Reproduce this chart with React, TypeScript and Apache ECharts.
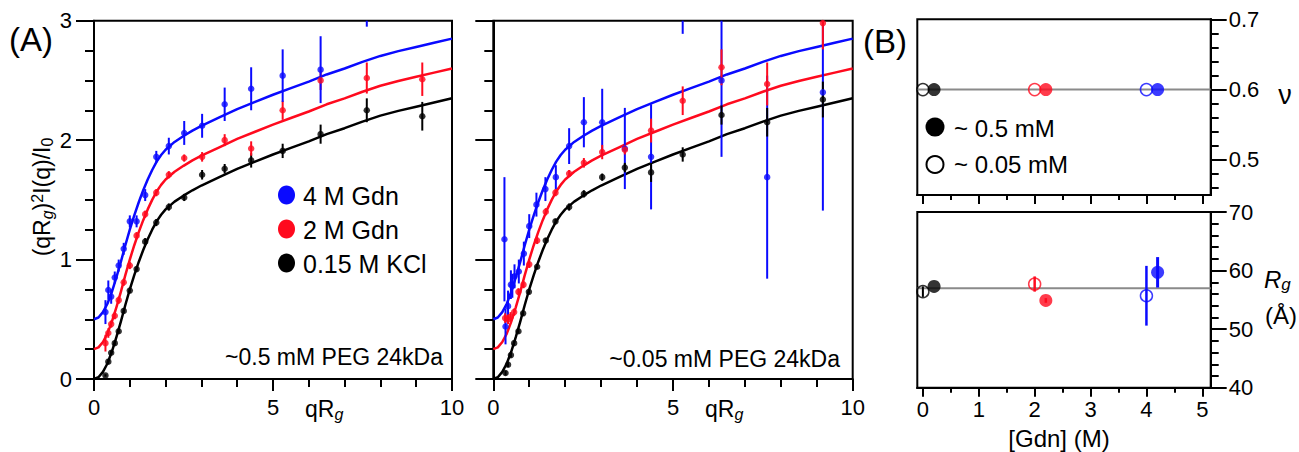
import React, { useEffect, useRef } from 'react';
import * as echarts from 'echarts';

const FONT = '"Liberation Sans", Arial, Helvetica, sans-serif';
const BLUE = '#0a0aff';
const RED = '#ff0a1e';
const BLACK = '#000000';
const GRAY = '#8a8a8a';

// ---------- Panel A : fitted curves ----------
const curveQ = [0, 0.125, 0.25, 0.375, 0.5, 0.625, 0.75, 0.875, 1, 1.125, 1.25, 1.375, 1.5, 1.625, 1.75, 1.875, 2, 2.25, 2.5, 2.75, 3, 3.5, 4, 4.5, 5, 5.5, 6, 6.5, 7, 7.5, 8, 8.5, 9, 9.5, 10];
const curveKCl = [0, 0.015, 0.06, 0.13, 0.23, 0.35, 0.48, 0.62, 0.75, 0.87, 0.98, 1.08, 1.17, 1.25, 1.32, 1.375, 1.42, 1.485, 1.535, 1.58, 1.62, 1.69, 1.76, 1.82, 1.88, 1.935, 1.99, 2.05, 2.10, 2.155, 2.205, 2.245, 2.28, 2.315, 2.35];
const curveGdn2 = [0.25, 0.265, 0.31, 0.38, 0.48, 0.60, 0.73, 0.87, 1.00, 1.12, 1.23, 1.33, 1.42, 1.50, 1.57, 1.625, 1.67, 1.735, 1.785, 1.83, 1.87, 1.94, 2.01, 2.07, 2.13, 2.185, 2.24, 2.30, 2.35, 2.405, 2.455, 2.495, 2.53, 2.565, 2.60];
const curveGdn4 = [0.50, 0.515, 0.56, 0.63, 0.73, 0.85, 0.98, 1.12, 1.25, 1.37, 1.48, 1.58, 1.67, 1.75, 1.82, 1.875, 1.92, 1.985, 2.035, 2.08, 2.12, 2.19, 2.26, 2.32, 2.38, 2.435, 2.49, 2.55, 2.60, 2.655, 2.705, 2.745, 2.78, 2.815, 2.85];

// ---------- Panel A left : ~0.5 mM PEG ----------
const hiQ = [0.32, 0.40, 0.48, 0.58, 0.69, 0.83, 1.0, 1.19, 1.43, 1.74, 2.09, 2.52, 3.02, 3.65, 4.39, 5.27, 6.33, 7.62, 9.17];
const hiKCl = [0.03, 0.145, 0.22, 0.30, 0.40, 0.57, 0.74, 0.92, 1.15, 1.31, 1.44, 1.52, 1.71, 1.76, 1.83, 1.91, 2.05, 2.25, 2.20];
const hiKClErr = [0.01, 0.02, 0.02, 0.02, 0.02, 0.02, 0.02, 0.02, 0.03, 0.03, 0.03, 0.03, 0.04, 0.04, 0.06, 0.06, 0.08, 0.10, 0.12];
const hiGdn2 = [0.30, 0.385, 0.46, 0.53, 0.66, 0.81, 0.95, 1.20, 1.38, 1.56, 1.71, 1.85, 1.86, 2.00, 1.93, 2.25, 2.50, 2.52, 2.51];
const hiGdn2Err = [0.07, 0.04, 0.03, 0.03, 0.03, 0.03, 0.03, 0.03, 0.03, 0.03, 0.03, 0.03, 0.04, 0.05, 0.06, 0.08, 0.08, 0.13, 0.14];
const hiGdn4 = [0.56, 0.745, 0.69, 0.85, 0.95, 1.09, 1.32, 1.32, 1.54, 1.86, 1.95, 2.06, 2.12, 2.30, 2.43, 2.54, 2.59, 3.30, null];
const hiGdn4Err = [0.10, 0.08, 0.06, 0.05, 0.05, 0.05, 0.05, 0.05, 0.05, 0.05, 0.07, 0.10, 0.10, 0.14, 0.18, 0.22, 0.28, 0.35, null];

// ---------- Panel A right : ~0.05 mM PEG ----------
const loQKCl = [0.34, 0.41, 0.49, 0.58, 0.70, 0.83, 0.99, 1.22, 1.46, 1.73, 2.11, 2.52, 3.03, 3.66, 4.39, 5.27, 6.35, 7.62, 9.17];
const loKCl = [0.05, 0.12, 0.20, 0.30, 0.40, 0.55, 0.73, 0.94, 1.16, 1.32, 1.44, 1.55, 1.69, 1.77, 1.73, 1.88, 2.21, 2.15, 2.34];
const loKClErr = [0.02, 0.02, 0.02, 0.02, 0.02, 0.02, 0.02, 0.02, 0.02, 0.02, 0.03, 0.03, 0.03, 0.04, 0.08, 0.06, 0.08, 0.12, 0.15];
const loQGdn2 = [0.33, 0.41, 0.48, 0.58, 0.70, 0.84, 1.0, 1.22, 1.46, 1.73, 2.11, 2.52, 3.03, 3.66, 4.39, 5.27, 6.35, 7.62, 9.17];
const loGdn2 = [0.51, 0.50, 0.52, 0.56, 0.73, 0.79, 0.96, 1.16, 1.40, 1.56, 1.72, 1.81, 1.90, 1.92, 2.08, 2.33, 2.61, 2.47, 2.98];
const loGdn2Err = [0.04, 0.04, 0.04, 0.03, 0.03, 0.03, 0.03, 0.03, 0.03, 0.03, 0.03, 0.04, 0.06, 0.04, 0.10, 0.12, 0.15, 0.18, 0.22];
const loQGdn4 = [0.31, 0.34, 0.41, 0.49, 0.53, 0.59, 0.71, 0.85, 1.0, 1.2, 1.45, 1.74, 2.11, 2.52, 3.03, 3.66, 4.39, 5.27, 6.35, 7.62, 9.17];
const loGdn4 = [1.17, 0.44, 0.61, 0.79, 0.78, 0.86, 0.90, 1.05, 1.28, 1.46, 1.59, 1.69, 1.95, 2.15, 2.15, 1.93, 1.86, 3.30, 2.50, 1.69, 2.40];
const loGdn4Err = [0.52, 0.15, 0.13, 0.12, 0.10, 0.10, 0.10, 0.10, 0.10, 0.10, 0.10, 0.10, 0.15, 0.21, 0.28, 0.34, 0.44, 0.41, 0.64, 0.85, 0.99];

// ---------- Panel B ----------
const gdnFilled = [0.2, 2.2, 4.2];
const gdnOpen = [0, 2, 4];
const pointColors = [BLACK, RED, BLUE];
const nuFilled = [0.6, 0.6, 0.6];
const nuOpen = [0.6, 0.6, 0.6];
const nuRef = 0.6;
const rgFilled = [57.3, 54.9, 59.7];
const rgFilledErr = [0, 0.4, 2.6];
const rgOpen = [56.4, 57.7, 55.7];
const rgOpenErr = [0.9, 1.3, 5.1];
const rgRef = 57;
const gdnMin = -0.1;
const gdnMax = 5.15;
const gdnTicks = [0, 1, 2, 3, 4, 5];
const gdnMinorTicks = [0.5, 1.5, 2.5, 3.5, 4.5];
const nuTicks = [0.5, 0.6, 0.7];
const nuMinorTicks = [0.46, 0.48, 0.52, 0.54, 0.56, 0.58, 0.62, 0.64, 0.66, 0.68];

const tickLine = { color: '#000', width: 2 };
const labelStyle = { color: '#000', fontSize: 22, fontFamily: FONT };
const axisLineStyle = { show: true, onZero: false, lineStyle: tickLine };

function pairs(xs: number[], ys: (number | null)[]) {
  const out: number[][] = [];
  xs.forEach((x, i) => { if (ys[i] != null) out.push([x, ys[i] as number]); });
  return out;
}

function errSeries(xi: number, yi: number, xs: number[], ys: (number | null)[], es: (number | null)[], color: string, width: number) {
  const data: number[][] = [];
  xs.forEach((x, i) => { if (ys[i] != null && es[i] != null && (es[i] as number) > 0) data.push([x, ys[i] as number, es[i] as number]); });
  return {
    type: 'custom', xAxisIndex: xi, yAxisIndex: yi, silent: true, z: 3,
    encode: { x: 0, y: 1 },
    data,
    renderItem: (params: any, api: any) => {
      const x = api.value(0), y = api.value(1), e = api.value(2);
      const cs = params.coordSys;
      const p1 = api.coord([x, y - e]);
      const p2 = api.coord([x, y + e]);
      const top = cs.y, bot = cs.y + cs.height;
      const c = (v: number) => Math.min(Math.max(v, top), bot);
      return { type: 'line', shape: { x1: p1[0], y1: c(p1[1]), x2: p2[0], y2: c(p2[1]) }, style: { stroke: color, lineWidth: width } };
    },
  };
}

function curve(xi: number, yi: number, ys: number[], color: string) {
  return {
    type: 'line', xAxisIndex: xi, yAxisIndex: yi, data: pairs(curveQ, ys), showSymbol: false, symbol: 'none',
    smooth: false, lineStyle: { color, width: 2.5, join: 'round' }, z: 2, silent: true,
  };
}

function dots(xi: number, yi: number, xs: number[], ys: (number | null)[], color: string) {
  return {
    type: 'scatter', xAxisIndex: xi, yAxisIndex: yi, data: pairs(xs, ys), symbolSize: 6.5,
    itemStyle: { color }, z: 4, silent: true, clip: true,
  };
}

function qAxis(grid: number) {
  return {
    type: 'value', gridIndex: grid, min: 0, max: 10, interval: 5,
    axisLine: axisLineStyle,
    axisTick: { show: true, length: 12, lineStyle: tickLine },
    minorTick: { show: true, splitNumber: 5, length: 8, lineStyle: tickLine },
    axisLabel: { ...labelStyle, margin: 17, showMinLabel: true, showMaxLabel: true },
    splitLine: { show: false }, minorSplitLine: { show: false },
  };
}

function iAxis(grid: number, labels: boolean) {
  return {
    type: 'value', gridIndex: grid, min: 0, max: 3, interval: 1, position: 'left',
    axisLine: axisLineStyle,
    axisTick: { show: true, length: 18, lineStyle: tickLine },
    minorTick: { show: true, splitNumber: 4, length: 9, lineStyle: tickLine },
    axisLabel: { ...labelStyle, show: labels, margin: 22 },
    splitLine: { show: false }, minorSplitLine: { show: false },
  };
}

function gdnAxis(grid: number, values: number[], len: number, labels: boolean) {
  return {
    type: 'value', gridIndex: grid, min: gdnMin, max: gdnMax, position: 'bottom',
    axisLine: axisLineStyle,
    axisTick: { show: true, length: len, lineStyle: tickLine, customValues: values },
    axisLabel: { ...labelStyle, show: labels, margin: 11, lineHeight: 22, customValues: values },
    splitLine: { show: false },
  };
}

const txt = (x: number, y: number, text: string, size: number, align = 'left', italic = false) => ({
  type: 'text', x, y, silent: true,
  style: {
    text, fill: '#000',
    font: `${italic ? 'italic ' : ''}${size}px ${FONT}`,
    fontSize: size, fontFamily: FONT,
    align, verticalAlign: 'middle',
  },
});

export default function App() {
  const ref = useRef<HTMLDivElement>(null);
  useEffect(() => {
    if (!ref.current) return;
    const chart = echarts.init(ref.current, null, { renderer: 'svg' });
    const gridBase = { show: true, borderColor: '#000', borderWidth: 2, backgroundColor: 'transparent', containLabel: false };
    const option: any = {
      animation: false,
      backgroundColor: '#fff',
      grid: [
        { ...gridBase, left: 94, top: 20.7, width: 358, height: 358.3 },
        { ...gridBase, left: 493.3, top: 20.7, width: 359.4, height: 358.3 },
        { ...gridBase, left: 917.3, top: 19.3, width: 293.4, height: 175.7 },
        { ...gridBase, left: 917.3, top: 212, width: 293.4, height: 175.7 },
      ],
      xAxis: [
        qAxis(0),
        qAxis(1),
        gdnAxis(2, gdnTicks, 9, false),
        gdnAxis(2, gdnMinorTicks, 5, false),
        gdnAxis(3, gdnTicks, 9, true),
        gdnAxis(3, gdnMinorTicks, 5, false),
      ],
      yAxis: [
        iAxis(0, true),
        iAxis(1, false),
        {
          type: 'value', gridIndex: 2, position: 'right', min: 0.45, max: 0.7,
          axisLine: axisLineStyle,
          axisTick: { show: true, length: 16, lineStyle: tickLine, customValues: nuTicks },
          axisLabel: { ...labelStyle, margin: 18, customValues: nuTicks, formatter: (v: number) => v.toFixed(1) },
          splitLine: { show: false },
        },
        {
          type: 'value', gridIndex: 2, position: 'right', min: 0.45, max: 0.7,
          axisLine: axisLineStyle,
          axisTick: { show: true, length: 8, lineStyle: tickLine, customValues: nuMinorTicks },
          axisLabel: { show: false, customValues: nuMinorTicks },
          splitLine: { show: false },
        },
        {
          type: 'value', gridIndex: 3, position: 'right', min: 40, max: 70, interval: 10,
          axisLine: axisLineStyle,
          axisTick: { show: true, length: 16, lineStyle: tickLine },
          minorTick: { show: true, splitNumber: 5, length: 8, lineStyle: tickLine },
          axisLabel: { ...labelStyle, margin: 18 },
          splitLine: { show: false }, minorSplitLine: { show: false },
        },
      ],
      series: [
        // Panel A left
        curve(0, 0, curveKCl, BLACK),
        curve(0, 0, curveGdn2, RED),
        curve(0, 0, curveGdn4, BLUE),
        errSeries(0, 0, hiQ, hiKCl, hiKClErr, BLACK, 2),
        errSeries(0, 0, hiQ, hiGdn2, hiGdn2Err, RED, 2),
        errSeries(0, 0, hiQ, hiGdn4, hiGdn4Err, BLUE, 2),
        dots(0, 0, hiQ, hiKCl, BLACK),
        dots(0, 0, hiQ, hiGdn2, RED),
        dots(0, 0, hiQ, hiGdn4, BLUE),
        // Panel A right
        curve(1, 1, curveKCl, BLACK),
        curve(1, 1, curveGdn2, RED),
        curve(1, 1, curveGdn4, BLUE),
        errSeries(1, 1, loQGdn4, loGdn4, loGdn4Err, BLUE, 2),
        errSeries(1, 1, loQKCl, loKCl, loKClErr, BLACK, 2),
        errSeries(1, 1, loQGdn2, loGdn2, loGdn2Err, RED, 2),
        dots(1, 1, loQGdn4, loGdn4, BLUE),
        dots(1, 1, loQKCl, loKCl, BLACK),
        dots(1, 1, loQGdn2, loGdn2, RED),
        // Panel B top (nu)
        {
          type: 'line', xAxisIndex: 2, yAxisIndex: 2, data: [[gdnMin, nuRef], [gdnMax, nuRef]], showSymbol: false, symbol: 'none',
          lineStyle: { color: GRAY, width: 2 }, z: 1, silent: true,
        },
        {
          type: 'scatter', xAxisIndex: 2, yAxisIndex: 2, symbolSize: 12, z: 4, silent: true,
          data: gdnOpen.map((x, i) => ({ value: [x, nuOpen[i]], itemStyle: { color: 'rgba(255,255,255,0)', borderColor: pointColors[i], borderWidth: 1.5 } })),
        },
        {
          type: 'scatter', xAxisIndex: 2, yAxisIndex: 2, symbolSize: 13, z: 4, silent: true,
          data: gdnFilled.map((x, i) => ({ value: [x, nuFilled[i]], itemStyle: { color: pointColors[i] } })),
        },
        // Panel B bottom (Rg)
        {
          type: 'line', xAxisIndex: 4, yAxisIndex: 4, data: [[gdnMin, rgRef], [gdnMax, rgRef]], showSymbol: false, symbol: 'none',
          lineStyle: { color: GRAY, width: 2 }, z: 1, silent: true,
        },
        errSeries(4, 4, [gdnOpen[0]], [rgOpen[0]], [rgOpenErr[0]], BLACK, 2),
        errSeries(4, 4, [gdnOpen[1]], [rgOpen[1]], [rgOpenErr[1]], RED, 2.5),
        errSeries(4, 4, [gdnOpen[2]], [rgOpen[2]], [rgOpenErr[2]], BLUE, 2.5),
        errSeries(4, 4, [gdnFilled[1]], [rgFilled[1]], [rgFilledErr[1]], RED, 2.5),
        errSeries(4, 4, [gdnFilled[2]], [rgFilled[2]], [rgFilledErr[2]], BLUE, 3),
        {
          type: 'scatter', xAxisIndex: 4, yAxisIndex: 4, symbolSize: 12, z: 4, silent: true,
          data: gdnOpen.map((x, i) => ({ value: [x, rgOpen[i]], itemStyle: { color: 'rgba(255,255,255,0)', borderColor: pointColors[i], borderWidth: 1.5 } })),
        },
        {
          type: 'scatter', xAxisIndex: 4, yAxisIndex: 4, symbolSize: 13, z: 4, silent: true,
          data: gdnFilled.map((x, i) => ({ value: [x, rgFilled[i]], itemStyle: { color: pointColors[i] } })),
        },
      ],
      graphic: [
        txt(9, 39, '(A)', 33),
        txt(863, 41, '(B)', 33),
        {
          type: 'text', x: 42, y: 197, rotation: Math.PI / 2, silent: true,
          style: {
            text: '{a|(qR}{g|g}{a|)}{s|2}{a|I(q)/I}{b|0}',
            align: 'center', verticalAlign: 'middle',
            fill: '#000', fontFamily: FONT, fontSize: 23,
            rich: {
              a: { fontSize: 23, fontFamily: FONT, fill: '#000', lineHeight: 26 },
              g: { fontSize: 16, fontFamily: FONT, fontStyle: 'italic', fill: '#000', lineHeight: 16, verticalAlign: 'bottom' },
              s: { fontSize: 16, fontFamily: FONT, fill: '#000', lineHeight: 16, verticalAlign: 'top' },
              b: { fontSize: 16, fontFamily: FONT, fill: '#000', lineHeight: 16, verticalAlign: 'bottom' },
            },
          },
        },
        ...[305, 705].map((x) => ({
          type: 'text', x, y: 409, silent: true,
          style: {
            text: '{a|qR}{g|g}', align: 'left', verticalAlign: 'middle',
            fill: '#000', fontFamily: FONT, fontSize: 23,
            rich: {
              a: { fontSize: 23, fontFamily: FONT, fill: '#000', lineHeight: 26 },
              g: { fontSize: 16, fontFamily: FONT, fontStyle: 'italic', fill: '#000', lineHeight: 16, verticalAlign: 'bottom' },
            },
          },
        })),
        // legend panel A
        { type: 'ellipse', shape: { cx: 286.5, cy: 195, rx: 8.5, ry: 9.5 }, style: { fill: BLUE }, silent: true },
        { type: 'ellipse', shape: { cx: 286.5, cy: 229, rx: 8.5, ry: 9.5 }, style: { fill: RED }, silent: true },
        { type: 'ellipse', shape: { cx: 286.5, cy: 263, rx: 8.5, ry: 9.5 }, style: { fill: BLACK }, silent: true },
        txt(303, 196, '4 M Gdn', 25),
        txt(303, 230, '2 M Gdn', 25),
        txt(303, 264, '0.15 M KCl', 25),
        txt(443, 357, '~0.5 mM PEG 24kDa', 23, 'right'),
        txt(840, 359, '~0.05 mM PEG 24kDa', 23, 'right'),
        // legend panel B
        { type: 'circle', shape: { cx: 935, cy: 127, r: 9.5 }, style: { fill: BLACK }, silent: true },
        { type: 'circle', shape: { cx: 935, cy: 164.5, r: 8.5 }, style: { fill: 'none', stroke: BLACK, lineWidth: 2 }, silent: true },
        txt(954, 128, '~ 0.5 mM', 24),
        txt(954, 164, '~ 0.05 mM', 24),
        // axis titles panel B
        txt(1285, 95, 'ν', 27, 'center'),
        {
          type: 'text', x: 1264, y: 279, silent: true,
          style: {
            text: '{a|R}{g|g}', align: 'left', verticalAlign: 'middle',
            fill: '#000', fontFamily: FONT, fontSize: 24,
            rich: {
              a: { fontSize: 24, fontFamily: FONT, fontStyle: 'italic', fill: '#000', lineHeight: 28 },
              g: { fontSize: 17, fontFamily: FONT, fontStyle: 'italic', fill: '#000', lineHeight: 17, verticalAlign: 'bottom' },
            },
          },
        },
        txt(1281, 315, '(Å)', 24, 'center'),
        txt(1059, 438, '[Gdn] (M)', 24, 'center'),
      ],
    };
    chart.setOption(option);
    return () => chart.dispose();
  }, []);
  return <div ref={ref} style={{ position: 'absolute', left: 0, top: 0, width: 1299, height: 452 }} />;
}
